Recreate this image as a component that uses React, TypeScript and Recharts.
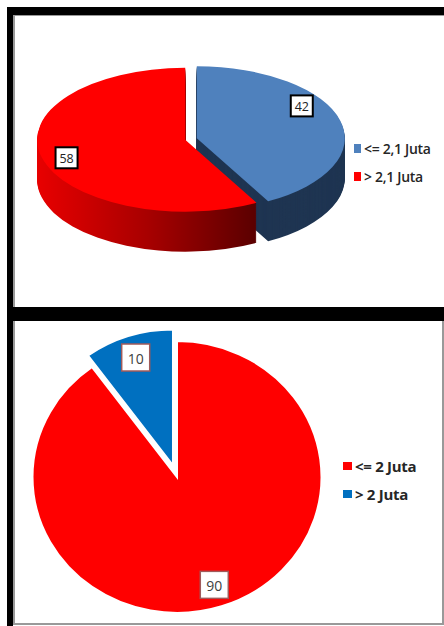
import { Cell, Pie, PieChart } from "recharts";

// top chart: 3D pie, income threshold 2,1 Juta
const topLabels = ["<= 2,1 Juta", "> 2,1 Juta"];
const topValues = [42, 58];
const topColors = ["#4F81BD", "#FF0000"];
const topSideFills = ["#1F3552", "url(#redSide)"];

// bottom chart: flat pie, threshold 2 Juta
const bottomLabels = ["<= 2 Juta", "> 2 Juta"];
const bottomValues = [90, 10];
const bottomColors = ["#FF0000", "#0070C0"];
const bottomExploded = [0, 13];

const FONT = "'Open Sans', 'DejaVu Sans', sans-serif";
const NO_MARGIN = { top: 0, right: 0, bottom: 0, left: 0 };

// middle angle of each slice, Excel style (clockwise from 12 o'clock)
function midAngles(values: number[], start = 90) {
  const total = values.reduce((a, b) => a + b, 0);
  let acc = 0;
  return values.map((v) => {
    const m = start - (360 * (acc + v / 2)) / total;
    acc += v;
    return m;
  });
}

function offsetFor(angle: number, dist: number) {
  const a = (angle * Math.PI) / 180;
  return { dx: dist * Math.cos(a), dy: -dist * Math.sin(a) };
}

// ---------- top 3D pie ----------
const K1 = 0.486; // vertical squash of the ellipse
const W1 = 427;
const H1 = 291;
const CX1 = 174;
const CY1 = 123 / K1;
const R1 = 148;
const DEPTH1 = 40;
const EXPLODE1 = 6;
const TOP_NUDGE = [18, 3];

function Pie3D() {
  const data = topLabels.map((name, i) => ({ name, value: topValues[i] }));
  const mids = midAngles(topValues);
  const offs = mids.map((m) => offsetFor(m, EXPLODE1));
  const depths: number[] = [];
  for (let d = DEPTH1; d >= 1; d--) depths.push(d);

  const label = (s: number) => (p: any) => {
    if (p.index !== s) return null;
    const a = ((p.midAngle + TOP_NUDGE[s]) * Math.PI) / 180;
    const r = p.outerRadius * 0.84;
    const x = p.cx + r * Math.cos(a);
    const y = p.cy - r * Math.sin(a);
    return (
      <g transform={`translate(${x},${y}) scale(1,${1 / K1})`}>
        <rect x={-11} y={-10.5} width={22} height={21} fill="#fff" stroke="#000" strokeWidth={2} />
        <text x={0} y={0.5} textAnchor="middle" dominantBaseline="central" fontSize={12.5} fill="#222" fontFamily={FONT}>
          {p.value}
        </text>
      </g>
    );
  };

  return (
    <div style={{ position: "absolute", left: 17, top: 16, width: W1, height: H1, overflow: "hidden" }}>
      <div style={{ width: W1, height: H1 / K1, transform: `scaleY(${K1})`, transformOrigin: "0 0" }}>
        <PieChart width={W1} height={H1 / K1} margin={NO_MARGIN}>
          {depths.flatMap((d) =>
            data.map((_, s) => (
              <Pie
                key={`side-${d}-${s}`}
                data={data}
                dataKey="value"
                cx={CX1 + offs[s].dx}
                cy={CY1 + offs[s].dy + d / K1}
                outerRadius={R1}
                startAngle={90}
                endAngle={-270}
                stroke="none"
                isAnimationActive={false}
              >
                {data.map((_, i) => (
                  <Cell key={i} fill={i === s ? topSideFills[s] : "none"} />
                ))}
              </Pie>
            ))
          )}
          {data.map((_, s) => (
            <Pie
              key={`top-${s}`}
              data={data}
              dataKey="value"
              cx={CX1 + offs[s].dx}
              cy={CY1 + offs[s].dy}
              outerRadius={R1}
              startAngle={90}
              endAngle={-270}
              stroke="none"
              label={label(s)}
              labelLine={false}
              isAnimationActive={false}
            >
              {data.map((_, i) => (
                <Cell key={i} fill={i === s ? topColors[s] : "none"} />
              ))}
            </Pie>
          ))}
        </PieChart>
      </div>
    </div>
  );
}

// ---------- bottom flat pie ----------
const K2 = 0.94;
const W2 = 429;
const H2 = 302;
const CX2 = 164;
const CY2 = 156 / K2;
const R2 = 144.5;

function FlatPie() {
  const data = bottomLabels.map((name, i) => ({ name, value: bottomValues[i] }));
  const mids = midAngles(bottomValues);
  const offs = mids.map((m, i) => offsetFor(m, bottomExploded[i]));

  const label = (s: number) => (p: any) => {
    if (p.index !== s) return null;
    const a = (p.midAngle * Math.PI) / 180;
    const r = p.outerRadius * 0.835;
    const x = p.cx + r * Math.cos(a);
    const y = p.cy - r * Math.sin(a);
    return (
      <g transform={`translate(${x},${y}) scale(1,${1 / K2})`}>
        <rect x={-14} y={-13.5} width={28} height={27} fill="#fff" stroke="#A05A5A" strokeWidth={1.5} />
        <text x={0} y={0.5} textAnchor="middle" dominantBaseline="central" fontSize={14} fill="#404040" fontFamily={FONT}>
          {p.value}
        </text>
      </g>
    );
  };

  return (
    <div style={{ position: "absolute", left: 13, top: 321, width: W2, height: H2, overflow: "hidden" }}>
      <div style={{ width: W2, height: H2 / K2, transform: `scaleY(${K2})`, transformOrigin: "0 0" }}>
        <PieChart width={W2} height={H2 / K2} margin={NO_MARGIN}>
          {data.map((_, s) => (
            <Pie
              key={`flat-${s}`}
              data={data}
              dataKey="value"
              cx={CX2 + offs[s].dx}
              cy={CY2 + offs[s].dy}
              outerRadius={R2}
              startAngle={90}
              endAngle={-270}
              label={label(s)}
              labelLine={false}
              isAnimationActive={false}
            >
              {data.map((_, i) => (
                <Cell
                  key={i}
                  fill={i === s ? bottomColors[s] : "none"}
                  stroke={i === s ? "#fff" : "none"}
                  strokeWidth={2}
                />
              ))}
            </Pie>
          ))}
        </PieChart>
      </div>
    </div>
  );
}

function Legend({
  labels,
  colors,
  left,
  top,
  gap,
  box,
  fontSize,
  weight,
}: {
  labels: string[];
  colors: string[];
  left: number;
  top: number;
  gap: number;
  box: [number, number];
  fontSize: number;
  weight: number;
}) {
  return (
    <div style={{ position: "absolute", left, top, fontFamily: FONT, fontSize, fontWeight: weight, color: "#262626" }}>
      {labels.map((l, i) => (
        <div key={l} style={{ display: "flex", alignItems: "center", height: gap, whiteSpace: "nowrap" }}>
          <span style={{ display: "inline-block", width: box[0], height: box[1], background: colors[i], marginRight: 3 }} />
          <span style={{ letterSpacing: -0.3 }}>{l}</span>
        </div>
      ))}
    </div>
  );
}

export default function App() {
  const block = (s: React.CSSProperties) => <div style={{ position: "absolute", ...s }} />;
  return (
    <div style={{ position: "absolute", left: 0, top: 0, width: 444, height: 626, background: "#fff", overflow: "hidden" }}>
      <svg width={0} height={0} style={{ position: "absolute" }}>
        <defs>
          <linearGradient id="redSide" x1="0" y1="0" x2="1" y2="0">
            <stop offset="0%" stopColor="#E80000" />
            <stop offset="50%" stopColor="#A80000" />
            <stop offset="100%" stopColor="#5A0000" />
          </linearGradient>
        </defs>
      </svg>

      {/* frames */}
      {block({ left: 7, top: 7, width: 437, height: 8, background: "#000" })}
      {block({ left: 13, top: 15, width: 431, height: 1, background: "#999" })}
      {block({ left: 7, top: 7, width: 6, height: 619, background: "#000" })}
      {block({ left: 13, top: 15, width: 1.5, height: 292, background: "#999" })}
      {block({ left: 7, top: 307, width: 437, height: 14, background: "#000" })}
      {block({ left: 13, top: 321, width: 1.5, height: 303, background: "#999" })}
      {block({ left: 442, top: 321, width: 1.5, height: 303, background: "#999" })}
      {block({ left: 13, top: 623, width: 431, height: 1.5, background: "#999" })}

      <Pie3D />
      <Legend labels={topLabels} colors={topColors} left={354} top={134} gap={28} box={[7, 9]} fontSize={14} weight={600} />

      <FlatPie />
      <Legend labels={bottomLabels} colors={bottomColors} left={343} top={452} gap={28} box={[9, 8]} fontSize={15} weight={700} />
    </div>
  );
}
